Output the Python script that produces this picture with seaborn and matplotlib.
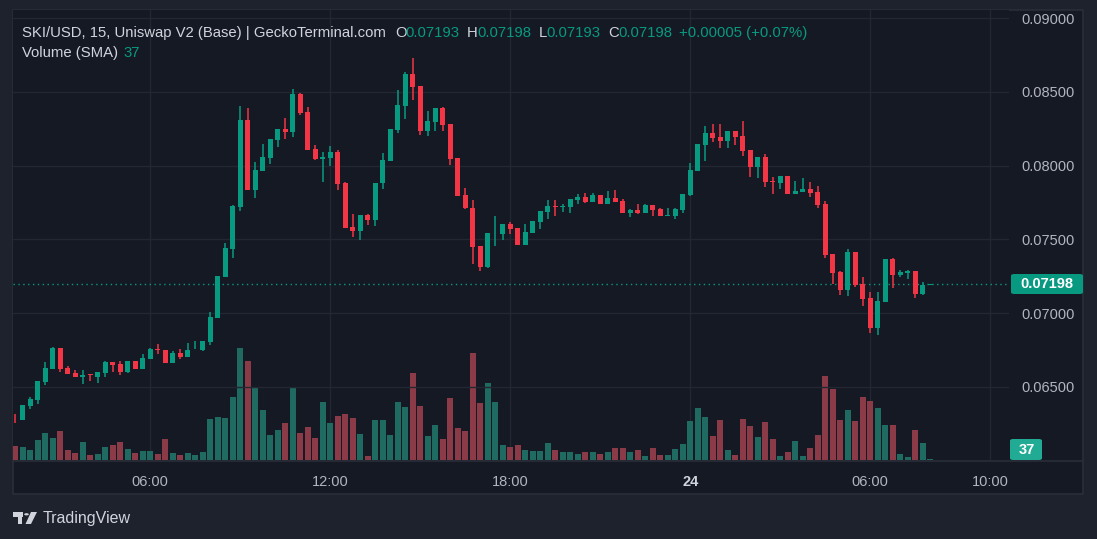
import numpy as np
import pandas as pd
import matplotlib
matplotlib.use("Agg")
import matplotlib.pyplot as plt
import seaborn as sns
from matplotlib.patches import Rectangle, FancyBboxPatch, Circle, Polygon
from matplotlib.lines import Line2D

# ---------------- data (15-minute candles, SKI/USD) ----------------
start_time = "2024-05-23 01:30"
open_ = [0.06288, 0.06275, 0.06369, 0.06410, 0.06532, 0.06620, 0.06763, 0.06627, 0.06593, 0.06566, 0.06586, 0.06566, 0.06593, 0.06668, 0.06654, 0.06600, 0.06675,
         0.06620, 0.06688, 0.06756, 0.06749, 0.06661, 0.06729, 0.06702, 0.06753, 0.06749, 0.06803, 0.06966, 0.07244, 0.07434, 0.07719, 0.08309, 0.07834, 0.07963, 0.08051,
         0.08173, 0.08248, 0.08227, 0.08485, 0.08363, 0.08112, 0.08044, 0.08051, 0.08092, 0.07881, 0.07583, 0.07556, 0.07664, 0.07631, 0.07881, 0.08031, 0.08241,
         0.08403, 0.08620, 0.08539, 0.08234, 0.08295, 0.08390, 0.08281, 0.08051, 0.07800, 0.07712, 0.07454, 0.07312, 0.07539, 0.07536, 0.07603, 0.07576, 0.07461,
         0.07542, 0.07617, 0.07685, 0.07725, 0.07719, 0.07719, 0.07766, 0.07786, 0.07753, 0.07800, 0.07739, 0.07780, 0.07759, 0.07678, 0.07698, 0.07678, 0.07732, 0.07705,
         0.07658, 0.07658, 0.07698, 0.07800, 0.07963, 0.08139, 0.08220, 0.08193, 0.08166, 0.08234, 0.08200, 0.08105, 0.07990, 0.08058, 0.07895, 0.07881, 0.07929,
         0.07807, 0.07820, 0.07841, 0.07820, 0.07739, 0.07400, 0.07278, 0.07156, 0.07414, 0.07197, 0.07102, 0.06898, 0.07075, 0.07366, 0.07258, 0.07271, 0.07285, 0.07129, 0.07193]
high = [0.06315, 0.06376, 0.06430, 0.06539, 0.06668, 0.06769, 0.06763, 0.06641, 0.06614, 0.06614, 0.06586, 0.06600, 0.06675, 0.06668, 0.06675, 0.06675, 0.06675,
        0.06722, 0.06763, 0.06790, 0.06749, 0.06742, 0.06756, 0.06797, 0.06810, 0.06810, 0.07007, 0.07251, 0.07475, 0.07732, 0.08403, 0.08390, 0.08024, 0.08146, 0.08180,
        0.08248, 0.08322, 0.08519, 0.08492, 0.08397, 0.08139, 0.08092, 0.08132, 0.08105, 0.07888, 0.07671, 0.07664, 0.07671, 0.07881, 0.08085, 0.08248, 0.08512,
        0.08634, 0.08729, 0.08539, 0.08370, 0.08390, 0.08397, 0.08281, 0.08051, 0.07848, 0.07766, 0.07454, 0.07542, 0.07658, 0.07603, 0.07617, 0.07576, 0.07603,
        0.07624, 0.07692, 0.07766, 0.07766, 0.07739, 0.07773, 0.07807, 0.07814, 0.07814, 0.07800, 0.07827, 0.07834, 0.07773, 0.07705, 0.07739, 0.07739, 0.07732, 0.07712,
        0.07712, 0.07712, 0.07807, 0.08017, 0.08146, 0.08268, 0.08281, 0.08281, 0.08234, 0.08234, 0.08302, 0.08105, 0.08058, 0.08078, 0.07922, 0.07929, 0.07929,
        0.07895, 0.07915, 0.07888, 0.07861, 0.07759, 0.07400, 0.07285, 0.07434, 0.07414, 0.07244, 0.07142, 0.07142, 0.07366, 0.07373, 0.07292, 0.07292, 0.07285, 0.07210, 0.07198]
low = [0.06254, 0.06275, 0.06349, 0.06383, 0.06512, 0.06620, 0.06602, 0.06586, 0.06566, 0.06519, 0.06539, 0.06525, 0.06566, 0.06600, 0.06580, 0.06593, 0.06620,
       0.06620, 0.06688, 0.06722, 0.06661, 0.06661, 0.06688, 0.06702, 0.06753, 0.06742, 0.06783, 0.06966, 0.07244, 0.07373, 0.07692, 0.07834, 0.07780, 0.07963, 0.08010,
       0.08125, 0.08180, 0.08193, 0.08342, 0.08105, 0.08037, 0.07888, 0.07997, 0.07834, 0.07576, 0.07515, 0.07495, 0.07597, 0.07590, 0.07841, 0.08031, 0.08220,
       0.08315, 0.08444, 0.08207, 0.08200, 0.08234, 0.08234, 0.08003, 0.07793, 0.07705, 0.07332, 0.07285, 0.07305, 0.07454, 0.07495, 0.07536, 0.07461, 0.07461,
       0.07542, 0.07570, 0.07637, 0.07658, 0.07685, 0.07678, 0.07739, 0.07746, 0.07753, 0.07739, 0.07739, 0.07753, 0.07678, 0.07651, 0.07671, 0.07678, 0.07658, 0.07658,
       0.07658, 0.07637, 0.07678, 0.07793, 0.07963, 0.08031, 0.08159, 0.08119, 0.08119, 0.08139, 0.08064, 0.07922, 0.07915, 0.07854, 0.07807, 0.07841, 0.07807,
       0.07807, 0.07820, 0.07786, 0.07712, 0.07373, 0.07197, 0.07122, 0.07115, 0.07176, 0.07047, 0.06864, 0.06851, 0.07075, 0.07170, 0.07244, 0.07231, 0.07102, 0.07122, 0.07193]
close = [0.06285, 0.06376, 0.06417, 0.06539, 0.06627, 0.06763, 0.06620, 0.06586, 0.06566, 0.06580, 0.06580, 0.06600, 0.06668, 0.06647, 0.06600, 0.06675, 0.06620,
         0.06695, 0.06756, 0.06749, 0.06661, 0.06729, 0.06702, 0.06749, 0.06756, 0.06810, 0.06973, 0.07251, 0.07441, 0.07725, 0.08309, 0.07834, 0.07970, 0.08058, 0.08180,
         0.08248, 0.08227, 0.08485, 0.08356, 0.08105, 0.08044, 0.08058, 0.08092, 0.07875, 0.07576, 0.07556, 0.07664, 0.07631, 0.07881, 0.08037, 0.08248, 0.08410,
         0.08620, 0.08532, 0.08234, 0.08302, 0.08390, 0.08275, 0.08044, 0.07793, 0.07712, 0.07447, 0.07312, 0.07542, 0.07542, 0.07603, 0.07570, 0.07461, 0.07549,
         0.07624, 0.07692, 0.07725, 0.07719, 0.07725, 0.07773, 0.07786, 0.07753, 0.07800, 0.07739, 0.07780, 0.07753, 0.07678, 0.07698, 0.07678, 0.07732, 0.07698, 0.07658,
         0.07664, 0.07705, 0.07807, 0.07970, 0.08146, 0.08220, 0.08187, 0.08166, 0.08234, 0.08193, 0.08098, 0.07990, 0.08058, 0.07888, 0.07888, 0.07929, 0.07807,
         0.07827, 0.07841, 0.07814, 0.07732, 0.07393, 0.07271, 0.07156, 0.07414, 0.07190, 0.07095, 0.06898, 0.07081, 0.07366, 0.07258, 0.07278, 0.07285, 0.07129, 0.07193, 0.07198]
volume = [520, 480, 370, 740, 1000, 810, 1070, 370, 260, 670, 190, 220, 480, 560, 670, 410, 260,
          330, 330, 220, 780, 260, 190, 260, 190, 300, 1520, 1590, 1550, 2330, 4140, 3660, 2660, 1850, 930,
          1110, 1370, 2660, 1000, 1220, 810, 2150, 1370, 1630, 1700, 1550, 960, 150, 1480, 1480, 930, 2150,
          1960, 3220, 2000, 890, 1300, 780, 2290, 1180, 1070, 3960, 2110, 2850, 2150, 560, 480, 560, 370,
          330, 330, 630, 370, 300, 300, 220, 300, 300, 220, 300, 440, 440, 300, 370, 150, 440, 190,
          190, 410, 590, 1440, 1920, 1590, 890, 1480, 370, 190, 1520, 1260, 850, 1410, 780, 150, 300,
          700, 150, 440, 930, 3110, 2630, 1480, 1850, 1440, 2330, 2180, 1920, 1300, 1300, 220, 110, 1110, 630, 37]

price_ticks = [0.065, 0.070, 0.075, 0.080, 0.085, 0.090]
time_tick_times = ["2024-05-23 06:00", "2024-05-23 12:00", "2024-05-23 18:00",
                   "2024-05-24 00:00", "2024-05-24 06:00", "2024-05-24 10:00"]
time_tick_labels = ["06:00", "12:00", "18:00", "24", "06:00", "10:00"]
last_price = 0.07198
last_volume_sma = 37

# ---------------- style ----------------
W, H = 1097, 539
OUTER = "#1e222d"
PANE = "#151924"
GRID = "#232732"
BORDER = "#2a2e39"
UP = "#089981"
DOWN = "#f23645"
VOL_UP = "#1f6a61"
VOL_DOWN = "#8b3a47"
TXT = "#b2b5be"
HEAD = "#d1d4dc"

sns.set_theme(style="dark")
plt.rcParams["font.family"] = ["Liberation Sans", "DejaVu Sans"]

fig = plt.figure(figsize=(W / 100, H / 100), dpi=100, facecolor=OUTER)


def fx(px):
    return px / W


def fy(py):
    return 1 - py / H


# chart frame background
fig.patches.append(Rectangle((fx(12.5), fy(494)), fx(1083) - fx(12.5), fy(10) - fy(494),
                             transform=fig.transFigure, facecolor=PANE, edgecolor=BORDER,
                             lw=1.2, zorder=-5))

L, R, T, B = 13, 1009, 10, 460
rect = [fx(L), fy(B), fx(R) - fx(L), fy(T) - fy(B)]

n = len(close)
idx = np.arange(n)
t0 = pd.Timestamp(start_time)
step = pd.Timedelta("15min")
tick_pos = [(pd.Timestamp(t) - t0) / step for t in time_tick_times]

o = np.array(open_)
c = np.array(close)
hi = np.array(high)
lo = np.array(low)
up = c >= o

# ---- volume pane (seaborn) ----
axv = fig.add_axes(rect)
axv.set_facecolor(PANE)
df = pd.DataFrame({"i": idx, "vol": volume, "dir": np.where(up, "up", "down")})
sns.barplot(data=df, x="i", y="vol", hue="dir", palette={"up": VOL_UP, "down": VOL_DOWN},
            native_scale=True, dodge=False, width=0.8, legend=False, errorbar=None,
            saturation=1, linewidth=0, ax=axv, zorder=2)
axv.set_ylim(0, 450 * 37)
axv.set_yticks([])
axv.set_xlabel("")
axv.set_ylabel("")

# ---- price pane ----
ax = fig.add_axes(rect, sharex=axv)
ax.set_facecolor("none")
ax.set_zorder(axv.get_zorder() + 1)

ppx = 0.005 / 73.75
ax.set_ylim(0.07 - (B - 313) * ppx, 0.07 + (313 - T) * ppx)
ax.set_xlim((L - 15.3) / 7.5, (R - 15.3) / 7.5)

# grid lines (drawn on volume axes so they sit behind volume bars)
for tp in tick_pos:
    axv.axvline(tp, color=GRID, lw=1, zorder=0)
for pt in price_ticks:
    ax.axhline(pt, color=GRID, lw=1, zorder=0)

colors = np.where(up, UP, DOWN)
ax.vlines(idx, lo, hi, colors=colors, lw=1.1, zorder=3)
body_h = np.maximum(np.abs(c - o), 0.00005)
body_b = np.minimum(o, c)
ax.bar(idx, body_h, bottom=body_b, width=0.68, color=colors, linewidth=0, zorder=4)

ax.axhline(last_price, color=UP, lw=1, ls=(0, (1, 2.5)), zorder=2)

for a in (ax, axv):
    for s in a.spines.values():
        s.set_visible(False)
    a.grid(False)

ax.yaxis.tick_right()
ax.set_yticks(price_ticks)
ax.set_yticklabels([f"{p:.5f}" for p in price_ticks], color=TXT, fontsize=10.5)
ax.tick_params(axis="y", length=0, pad=9)
ax.set_xticks(tick_pos)
ax.set_xticklabels(time_tick_labels, color=TXT, fontsize=10.5)
ax.tick_params(axis="x", length=0, pad=11)
for lab in ax.get_xticklabels():
    if lab.get_text() == "24":
        lab.set_fontweight("bold")
        lab.set_color(HEAD)
axv.tick_params(axis="x", length=0, labelbottom=False)
axv.tick_params(axis="y", length=0, labelleft=False)

# bottom separator
fig.add_artist(Line2D([fx(12.5), fx(1083)], [fy(460.5), fy(460.5)], transform=fig.transFigure,
                      color=BORDER, lw=1.2))

# last price label
fig.patches.append(FancyBboxPatch((fx(1011), fy(294)), fx(1083) - fx(1011), fy(274) - fy(294),
                                  boxstyle="round,pad=0,rounding_size=0.003",
                                  transform=fig.transFigure, facecolor=UP, edgecolor="none", zorder=5))
fig.text(fx(1046.5), fy(284.5), f"{last_price:.5f}", color="white", fontsize=10.5,
         fontweight="bold", ha="center", va="center", zorder=6)
# volume label
fig.patches.append(FancyBboxPatch((fx(1010), fy(460)), fx(1042) - fx(1010), fy(439) - fy(460),
                                  boxstyle="round,pad=0,rounding_size=0.003",
                                  transform=fig.transFigure, facecolor="#22ab94", edgecolor="none", zorder=5))
fig.text(fx(1026.5), fy(450), str(last_volume_sma), color="white", fontsize=10.5,
         fontweight="bold", ha="center", va="center", zorder=6)

# header legend
def ht(x, y, s, col, **kw):
    fig.text(fx(x), fy(y), s, color=col, fontsize=10.7, ha="left", va="center", **kw)

ht(22, 33, "SKI/USD, 15, Uniswap V2 (Base) | GeckoTerminal.com", HEAD)
ht(395, 33, "O", HEAD)
ht(405.5, 33, f"{open_[-1]:.5f}", UP)
ht(467, 33, "H", HEAD)
ht(477, 33, f"{high[-1]:.5f}", UP)
ht(538.5, 33, "L", HEAD)
ht(546.5, 33, f"{low[-1]:.5f}", UP)
ht(608.5, 33, "C", HEAD)
ht(618, 33, f"{close[-1]:.5f}", UP)
chg = close[-1] - open_[-1]
ht(679, 33, f"+{chg:.5f} (+{chg / open_[-1] * 100:.2f}%)", UP)
ht(22.5, 53, "Volume (SMA)", HEAD)
ht(123.5, 53, str(last_volume_sma), UP)

# TradingView logo
logo = "#d1d4dc"
fig.patches.append(Rectangle((fx(13), fy(517)), fx(23) - fx(13), fy(512) - fy(517),
                             transform=fig.transFigure, facecolor=logo, edgecolor="none"))
fig.patches.append(Rectangle((fx(17.5), fy(524)), fx(22) - fx(17.5), fy(512) - fy(524),
                             transform=fig.transFigure, facecolor=logo, edgecolor="none"))
fig.patches.append(Circle((fx(26.5), fy(514.3)), 2.3 / W, transform=fig.transFigure,
                          facecolor=logo, edgecolor="none"))
fig.patches.append(Polygon([(fx(31), fy(512)), (fx(37), fy(512)), (fx(31), fy(524)), (fx(25.5), fy(524))],
                           closed=True, transform=fig.transFigure, facecolor=logo, edgecolor="none"))
fig.text(fx(42.5), fy(518), "TradingView", color=logo, fontsize=11.5, fontweight="normal",
         ha="left", va="center")

fig.savefig("out.png", dpi=100, facecolor=OUTER)
